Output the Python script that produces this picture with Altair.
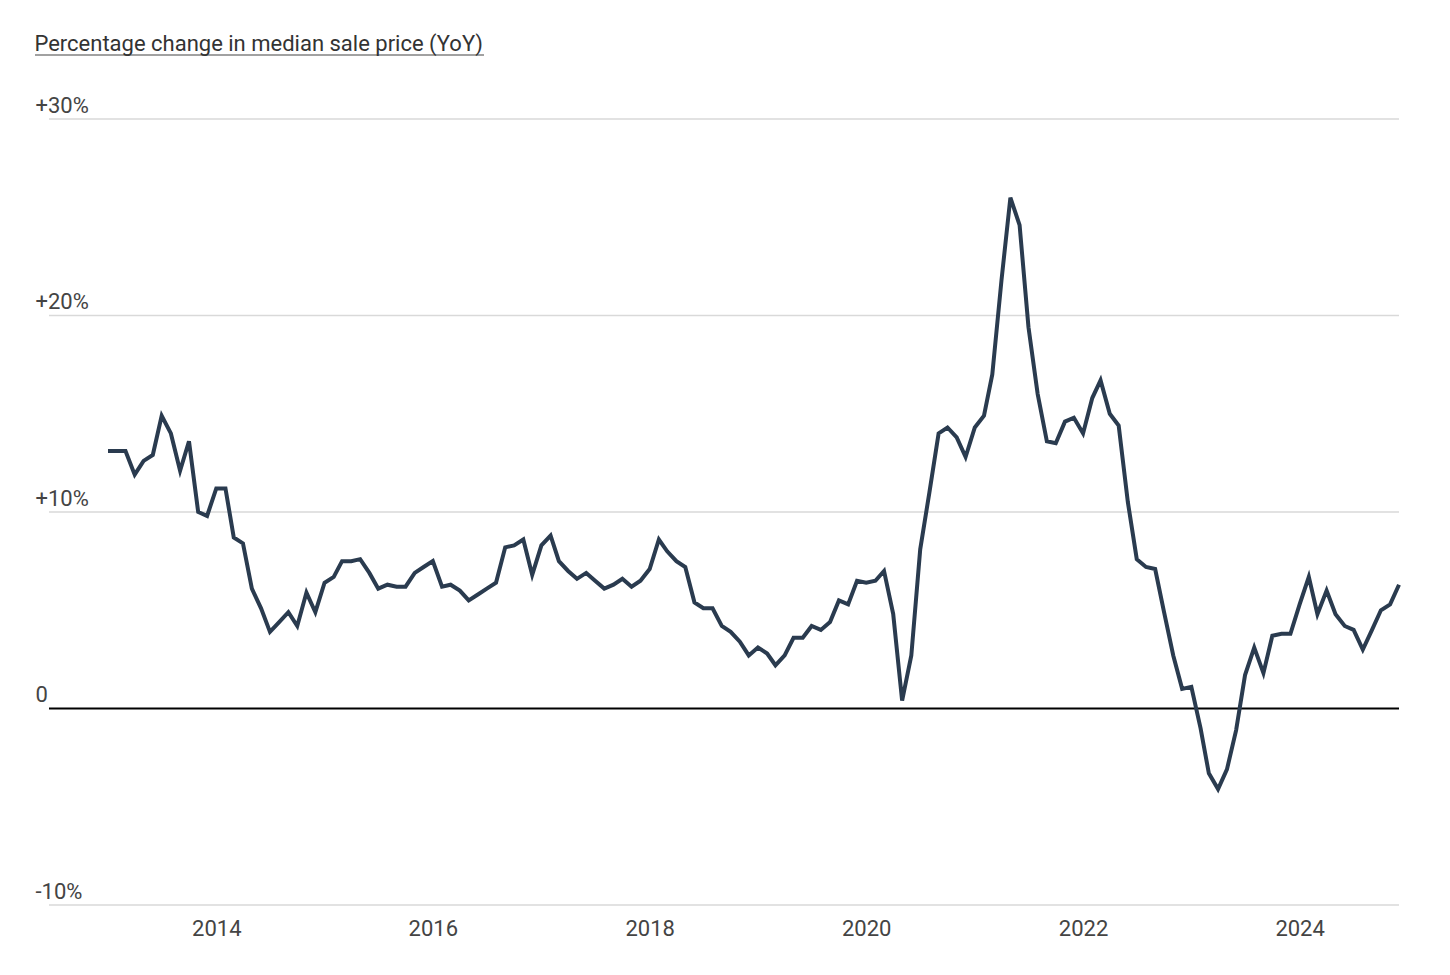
import altair as alt
import pandas as pd

start_month = "2013-01-01"
yoy_change = [
    13.1, 13.1, 13.1, 11.9, 12.6, 12.9, 14.9, 14.0, 12.1, 13.6, 10.0, 9.8,
    11.2, 11.2, 8.7, 8.4, 6.1, 5.1, 3.9, 4.4, 4.9, 4.2, 5.9, 4.9,
    6.4, 6.7, 7.5, 7.5, 7.6, 6.9, 6.1, 6.3, 6.2, 6.2, 6.9, 7.2,
    7.5, 6.2, 6.3, 6.0, 5.5, 5.8, 6.1, 6.4, 8.2, 8.3, 8.6, 6.8,
    8.3, 8.8, 7.5, 7.0, 6.6, 6.9, 6.5, 6.1, 6.3, 6.6, 6.2, 6.5,
    7.1, 8.6, 8.0, 7.5, 7.2, 5.4, 5.1, 5.1, 4.2, 3.9, 3.4, 2.7,
    3.1, 2.8, 2.2, 2.7, 3.6, 3.6, 4.2, 4.0, 4.4, 5.5, 5.3, 6.5,
    6.4, 6.5, 7.0, 4.8, 0.4, 2.7, 8.1, 11.0, 14.0, 14.3, 13.8, 12.8,
    14.3, 14.9, 17.0, 21.8, 26.0, 24.6, 19.4, 16.0, 13.6, 13.5, 14.6, 14.8,
    14.0, 15.8, 16.7, 15.0, 14.4, 10.5, 7.6, 7.2, 7.1, 4.9, 2.7, 1.0,
    1.1, -1.0, -3.3, -4.1, -3.1, -1.1, 1.7, 3.1, 1.8, 3.7, 3.8, 3.8,
    5.3, 6.7, 4.8, 6.0, 4.8, 4.2, 4.0, 3.0, 4.0, 5.0, 5.3, 6.3,
]
y_ticks = [-10, 0, 10, 20, 30]
grid_ticks = [-10, 10, 20, 30]
title_text = "Percentage change in median sale price (YoY)"

dates = pd.date_range(start_month, periods=len(yoy_change), freq="MS")
df = pd.DataFrame({"date": dates.strftime("%Y-%m-%d"), "value": yoy_change})

W, H = 1291, 786
FONT = "Roboto"
GRID_EXT = 59

y_scale = alt.Scale(domain=[-10, 30], nice=False)

x_enc = alt.X(
    "date:T",
    scale=alt.Scale(type="utc", domain=[df["date"].iloc[0], df["date"].iloc[-1]]),
    axis=alt.Axis(
        title=None, format="%Y", tickCount={"interval": "year", "step": 2},
        grid=False, ticks=False, domain=False, labelFontSize=22,
        labelColor="#444444", labelFont=FONT, labelPadding=13,
    ),
)
y_enc = alt.Y(
    "value:Q",
    scale=y_scale,
    axis=alt.Axis(
        title=None, values=y_ticks, ticks=False, domain=False, grid=False,
        labelAlign="left", labelBaseline="alphabetic", labelOffset=-7,
        labelPadding=73, labelFontSize=22, labelColor="#444444", labelFont=FONT,
        labelExpr="datum.value > 0 ? '+' + datum.value + '%' : (datum.value == 0 ? '0' : datum.value + '%')",
    ),
)

grid = alt.Chart(pd.DataFrame({"v": grid_ticks})).mark_rule(color="#d9d9d9", strokeWidth=1.3).encode(
    y=alt.Y("v:Q", scale=y_scale), x=alt.value(-GRID_EXT), x2=alt.value(W)
)

zero = alt.Chart(pd.DataFrame({"v": [0]})).mark_rule(color="#000000", strokeWidth=2).encode(
    y=alt.Y("v:Q", scale=y_scale), x=alt.value(-GRID_EXT), x2=alt.value(W)
)

line = alt.Chart(df).mark_line(color="#2a3b4f", strokeWidth=4, strokeJoin="miter").encode(x=x_enc, y=y_enc)

underline = alt.Chart(pd.DataFrame({"v": [0]})).mark_rule(color="#444444", strokeWidth=1.2).encode(
    x=alt.value(-73), x2=alt.value(376), y=alt.value(-64)
)

chart = (
    alt.layer(grid, zero, line, underline)
    .properties(
        width=W, height=H,
        title=alt.TitleParams(
            title_text, anchor="start", frame="bounds", fontSize=22, font=FONT,
            fontWeight="normal", color="#333333", offset=-2,
        ),
        padding={"left": 26, "top": 25, "right": 10, "bottom": 10},
    )
    .configure(background="white")
    .configure_view(stroke=None)
)

chart.save("out.html", embed_options={"renderer": "svg", "actions": False})
